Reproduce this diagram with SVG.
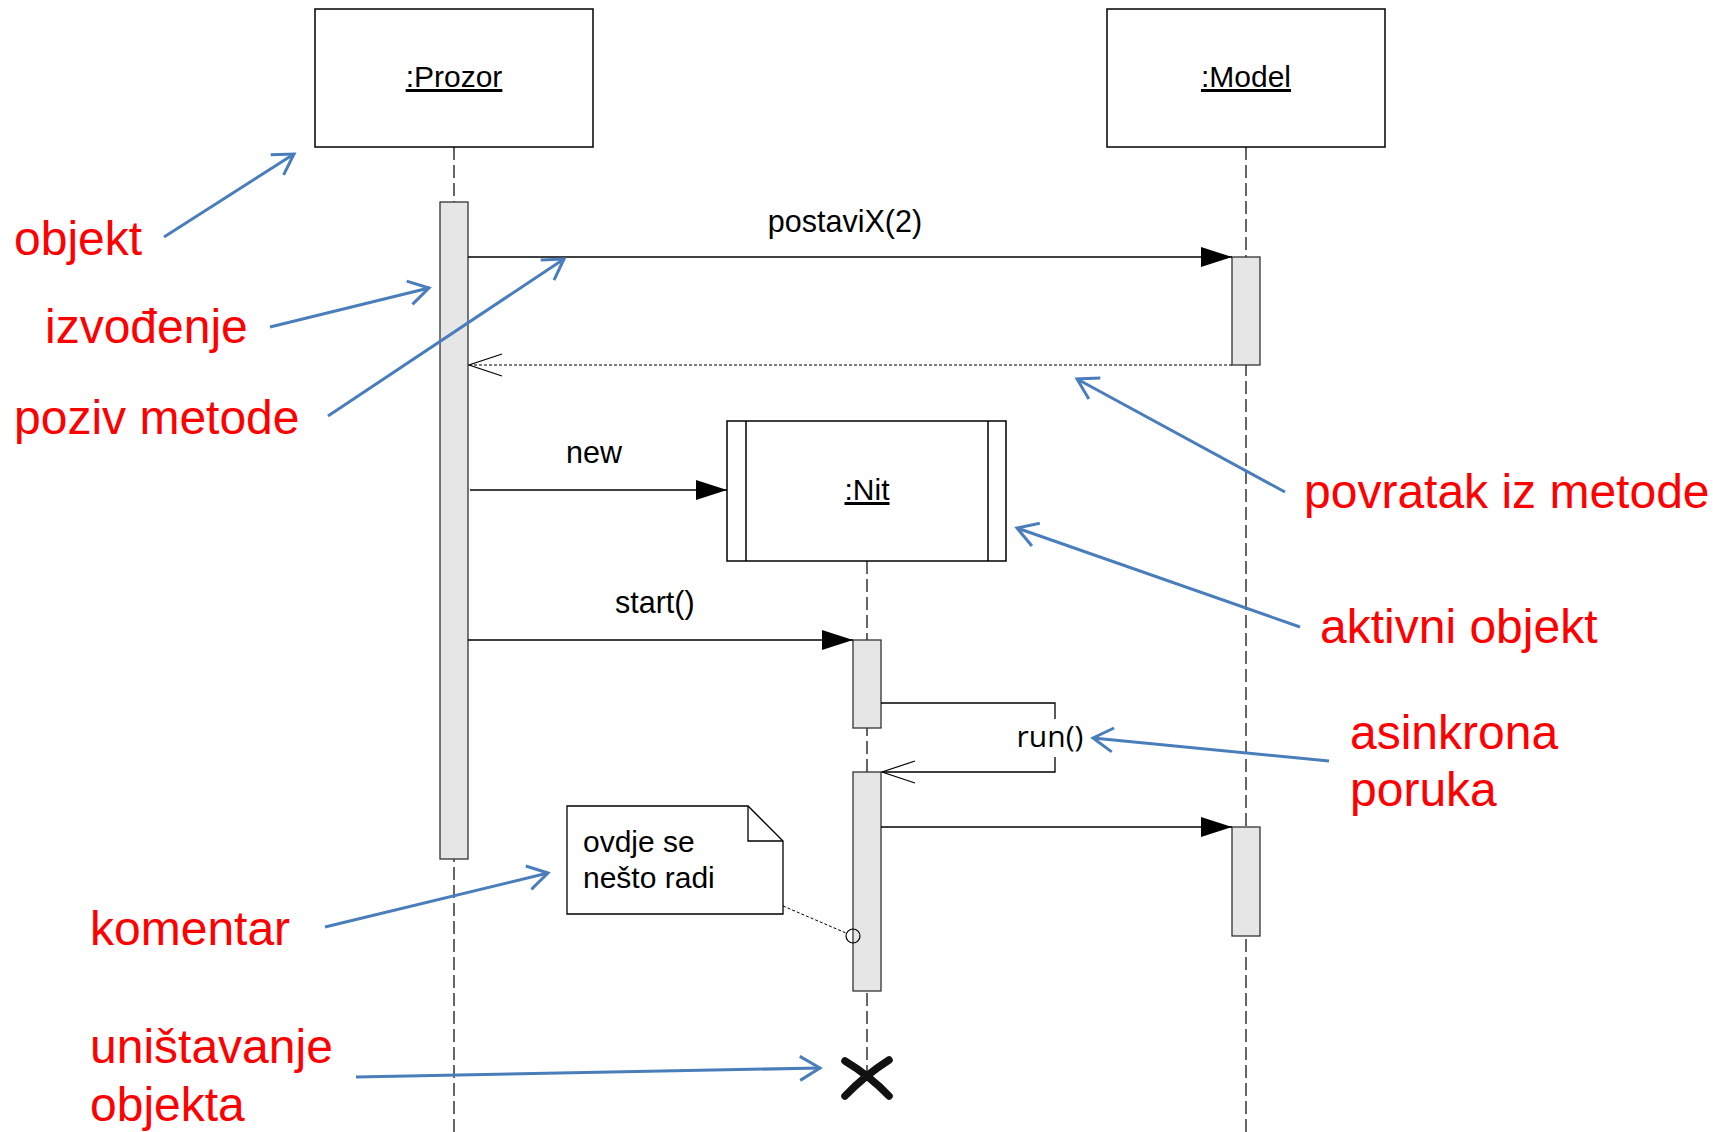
<svg xmlns="http://www.w3.org/2000/svg" width="1720" height="1132" viewBox="0 0 1720 1132">
<style>
  .box{fill:#fff;stroke:#000;stroke-width:1.5}
  .bar{fill:#e6e6e6;stroke:#333;stroke-width:1.3}
  .life{stroke:#000;stroke-width:1.2;stroke-dasharray:13 5;fill:none}
  .msg{stroke:#000;stroke-width:1.3;fill:none}
  .ret{stroke:#000;stroke-width:1.2;stroke-dasharray:3 2;fill:none}
  .name{font-family:"Liberation Sans",Arial,sans-serif;font-size:30px;text-anchor:middle;text-decoration:underline;fill:#000}
  .lbl{font-family:"Liberation Sans",Arial,sans-serif;font-size:30.5px;fill:#000}
  .note{font-family:"Liberation Sans",Arial,sans-serif;font-size:30px;fill:#000}
  .red{font-family:"Liberation Sans",Arial,sans-serif;font-size:48px;fill:#ff0000}
  .blue{stroke:#4a7ebb;stroke-width:3;fill:none;marker-end:url(#bopen)}
</style>
<defs>
  <marker id="fill" markerUnits="userSpaceOnUse" markerWidth="32" markerHeight="22" viewBox="0 0 32 22" refX="31" refY="11" orient="auto">
    <path d="M0,1 L31,11 L0,21 z" fill="#000"/>
  </marker>
  <marker id="open" markerUnits="userSpaceOnUse" markerWidth="36" markerHeight="26" viewBox="0 0 36 26" refX="34" refY="13" orient="auto">
    <path d="M1,2 L34,13 L1,24" fill="none" stroke="#000" stroke-width="1.2"/>
  </marker>
  <marker id="bopen" markerUnits="userSpaceOnUse" markerWidth="28" markerHeight="30" viewBox="0 0 28 30" refX="24" refY="15" orient="auto">
    <path d="M4,3 L24,15 L4,27" fill="none" stroke="#4a7ebb" stroke-width="3"/>
  </marker>
</defs>

<!-- lifelines -->
<g id="lifelines">
  <line class="life" x1="454" y1="147" x2="454" y2="1132"/>
  <line class="life" x1="1246" y1="147" x2="1246" y2="1132"/>
  <line class="life" x1="867" y1="561" x2="867" y2="1078"/>
</g>

<g id="prozor">
  <rect class="box" x="315" y="9" width="278" height="138"/>
  <text class="name" x="454" y="87">:Prozor</text>
</g>
<g id="model">
  <rect class="box" x="1107" y="9" width="278" height="138"/>
  <text class="name" x="1246" y="87">:Model</text>
</g>
<g id="nit">
  <rect class="box" x="727" y="421" width="279" height="140"/>
  <line x1="746" y1="421" x2="746" y2="561" stroke="#000" stroke-width="1.5"/>
  <line x1="988" y1="421" x2="988" y2="561" stroke="#000" stroke-width="1.5"/>
  <text class="name" x="867" y="500">:Nit</text>
</g>

<g id="activations">
  <rect class="bar" x="440" y="202" width="28" height="657"/>
  <rect class="bar" x="1232" y="257" width="28" height="108"/>
  <rect class="bar" x="853" y="640" width="28" height="88"/>
  <rect class="bar" x="853" y="772" width="28" height="219"/>
  <rect class="bar" x="1232" y="827" width="28" height="109"/>
</g>

<g id="connectors">
  <line class="msg" x1="468" y1="257" x2="1232" y2="257" stroke="#555" stroke-width="2" marker-end="url(#fill)"/>
  <line class="ret" x1="1232" y1="365" x2="469" y2="365" marker-end="url(#open)"/>
  <line class="msg" x1="470" y1="490" x2="727" y2="490" marker-end="url(#fill)"/>
  <line class="msg" x1="468" y1="640" x2="853" y2="640" marker-end="url(#fill)"/>
  <polyline class="msg" points="881,703 1055,703 1055,719"/>
  <polyline class="msg" points="1055,757 1055,772 882,772" marker-end="url(#open)"/>
  <line class="msg" x1="881" y1="827" x2="1232" y2="827" marker-end="url(#fill)"/>
  <line x1="783" y1="906" x2="846" y2="933" stroke="#000" stroke-width="1" stroke-dasharray="3 2"/>
</g>

<g id="labels">
  <text class="lbl" x="845" y="232" text-anchor="middle">postaviX(2)</text>
  <text class="lbl" x="566" y="463">new</text>
  <text class="lbl" x="615" y="613">start()</text>
  <text x="1050" y="747" text-anchor="middle" font-family="'Open Sans','Noto Sans',sans-serif" font-size="30" fill="#000">run()</text>
</g>

<g id="note">
  <path d="M567,806 L748,806 L783,841 L783,914 L567,914 Z" fill="#fff" stroke="#000" stroke-width="1.3"/>
  <path d="M748,806 L748,841 L783,841" fill="none" stroke="#000" stroke-width="1.3"/>
  <text class="note" x="583" y="852">ovdje se</text>
  <text class="note" x="583" y="888">nešto radi</text>
  <circle cx="853" cy="936" r="7" fill="none" stroke="#000" stroke-width="1.2"/>
</g>

<g id="destroy">
  <path d="M845,1061 Q870,1076 889,1096" fill="none" stroke="#111" stroke-width="7.5" stroke-linecap="round"/>
  <path d="M889,1060 Q864,1076 845,1096" fill="none" stroke="#111" stroke-width="7.5" stroke-linecap="round"/>
</g>

<g id="annotations">
  <line class="blue" x1="164" y1="237" x2="294" y2="154"/>
  <line class="blue" x1="270" y1="327" x2="429" y2="288"/>
  <line class="blue" x1="328" y1="416" x2="564" y2="259"/>
  <line class="blue" x1="1285" y1="492" x2="1077" y2="379"/>
  <line class="blue" x1="1300" y1="627" x2="1017" y2="528"/>
  <line class="blue" x1="1329" y1="761" x2="1093" y2="738"/>
  <line class="blue" x1="325" y1="927" x2="548" y2="873"/>
  <line class="blue" x1="356" y1="1077" x2="820" y2="1068"/>
  <text class="red" x="14" y="255">objekt</text>
  <text class="red" x="45" y="343">izvođenje</text>
  <text class="red" x="14" y="434">poziv metode</text>
  <text class="red" x="1304" y="508">povratak iz metode</text>
  <text class="red" x="1320" y="643">aktivni objekt</text>
  <text class="red" x="1350" y="749">asinkrona</text>
  <text class="red" x="1350" y="806">poruka</text>
  <text class="red" x="90" y="945">komentar</text>
  <text class="red" x="90" y="1063">uništavanje</text>
  <text class="red" x="90" y="1121">objekta</text>
</g>
</svg>
